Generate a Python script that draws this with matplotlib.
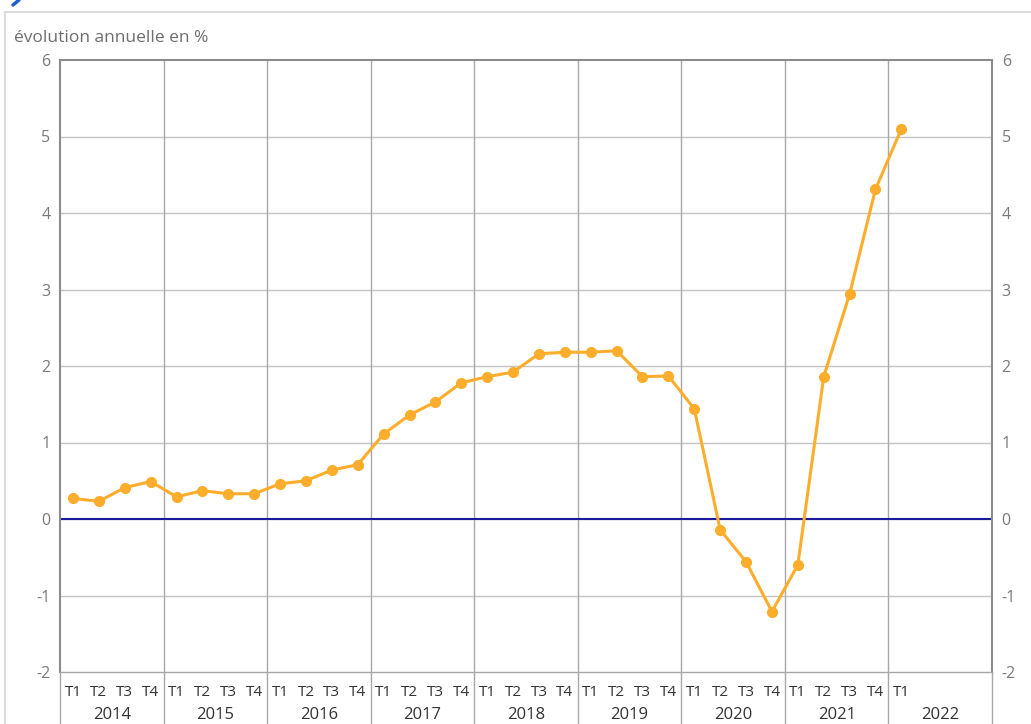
#! /usr/bin/env python3

import matplotlib
matplotlib.use("Agg")
import matplotlib.pyplot as plt
import matplotlib.transforms as mtransforms
from matplotlib.patches import Rectangle
from matplotlib.lines import Line2D

plt.rcParams['font.family'] = ['Open Sans', 'DejaVu Sans']

# Données : évolution annuelle en %, par trimestre
YEARS = ["2014", "2015", "2016", "2017", "2018", "2019", "2020", "2021", "2022"]
QUARTERS = ["T1", "T2", "T3", "T4"]
VALUES = [
    0.27, 0.23, 0.41, 0.49,   # 2014
    0.29, 0.37, 0.33, 0.33,   # 2015
    0.46, 0.50, 0.64, 0.71,   # 2016
    1.11, 1.36, 1.53, 1.78,   # 2017
    1.86, 1.92, 2.16, 2.18,   # 2018
    2.18, 2.20, 1.86, 1.87,   # 2019
    1.44, -0.14, -0.56, -1.21,  # 2020
    -0.60, 1.86, 2.94, 4.31,  # 2021
    5.10,                     # 2022
]
Y_TICKS = [-2, -1, 0, 1, 2, 3, 4, 5, 6]

LINE_COLOR = "#fbad2b"
ZERO_COLOR = "#1a1a9a"
GRID_COLOR = "#c4c4c4"
SPINE_COLOR = "#8c8c8c"
LABEL_COLOR = "#7a7a7a"
XLABEL_COLOR = "#333333"

fig = plt.figure(figsize=(10.31, 7.24), dpi=100)
fig.patch.set_facecolor("white")

# cadre gris clair autour du graphique
frame = Rectangle((5 / 1031, -0.05), 1.1, 1 - 12 / 724 + 0.05,
                  transform=fig.transFigure, fill=False,
                  edgecolor="#dcdcdc", linewidth=1.5)
fig.add_artist(frame)

# bout du titre bleu coupé en haut de l'image
fig.add_artist(Line2D([13 / 1031, 19 / 1031], [1 - 5 / 724, 1.0],
                      transform=fig.transFigure, color="#1f5fd6",
                      linewidth=2.5, solid_capstyle="round"))

ax = fig.add_axes([60 / 1031, 1 - 672 / 724, 932 / 1031, 612 / 724])
n_quarters = len(YEARS) * 4
x = list(range(len(VALUES)))

ax.set_xlim(-0.5, n_quarters - 0.5)
ax.set_ylim(-2, 6)

# grille horizontale
for yt in Y_TICKS:
    if yt in (-2, 6):
        continue
    ax.axhline(yt, color=GRID_COLOR, linewidth=1, zorder=1)
ax.axhline(0, color=ZERO_COLOR, linewidth=1.5, zorder=2)

# séparateurs d'années, prolongés sous l'axe
trans = mtransforms.blended_transform_factory(ax.transData, ax.transAxes)
for i in range(1, len(YEARS)):
    ax.plot([i * 4 - 0.5] * 2, [-0.1, 1], color="#a8a8a8", linewidth=1,
            transform=trans, clip_on=False, zorder=1)
for side in (-0.5, n_quarters - 0.5):
    ax.plot([side] * 2, [-0.1, 0], color="#a8a8a8", linewidth=1,
            transform=trans, clip_on=False, zorder=1)

ax.plot(x, VALUES, color=LINE_COLOR, linewidth=2.2, marker="o",
        markersize=7, zorder=3)

for s in ax.spines.values():
    s.set_color(SPINE_COLOR)
    s.set_linewidth(1.5)
ax.spines["bottom"].set_color("#a8a8a8")
ax.spines["bottom"].set_linewidth(1)

# axes y des deux côtés
ax.set_yticks(Y_TICKS)
ax.set_yticklabels([str(t) for t in Y_TICKS])
ax.tick_params(axis="y", length=0, pad=7, labelsize=11.5,
               labelcolor=LABEL_COLOR, labelright=True, right=False)

# étiquettes trimestres et années
ax.set_xticks([])
qtrans = mtransforms.blended_transform_factory(ax.transData, ax.transAxes)
for i, v in enumerate(VALUES):
    ax.text(i, -0.033, QUARTERS[i % 4], transform=qtrans, ha="center",
            va="center", fontsize=11, color=XLABEL_COLOR)
for j, yr in enumerate(YEARS):
    ax.text(j * 4 + 1.5, -0.071, yr, transform=qtrans, ha="center",
            va="center", fontsize=12, color=XLABEL_COLOR)

fig.text(14 / 1031, 1 - 38 / 724, "évolution annuelle en %",
         fontsize=12.5, color="#6e6e6e", va="center", ha="left")

fig.savefig("out.png", dpi=100, facecolor="white")
